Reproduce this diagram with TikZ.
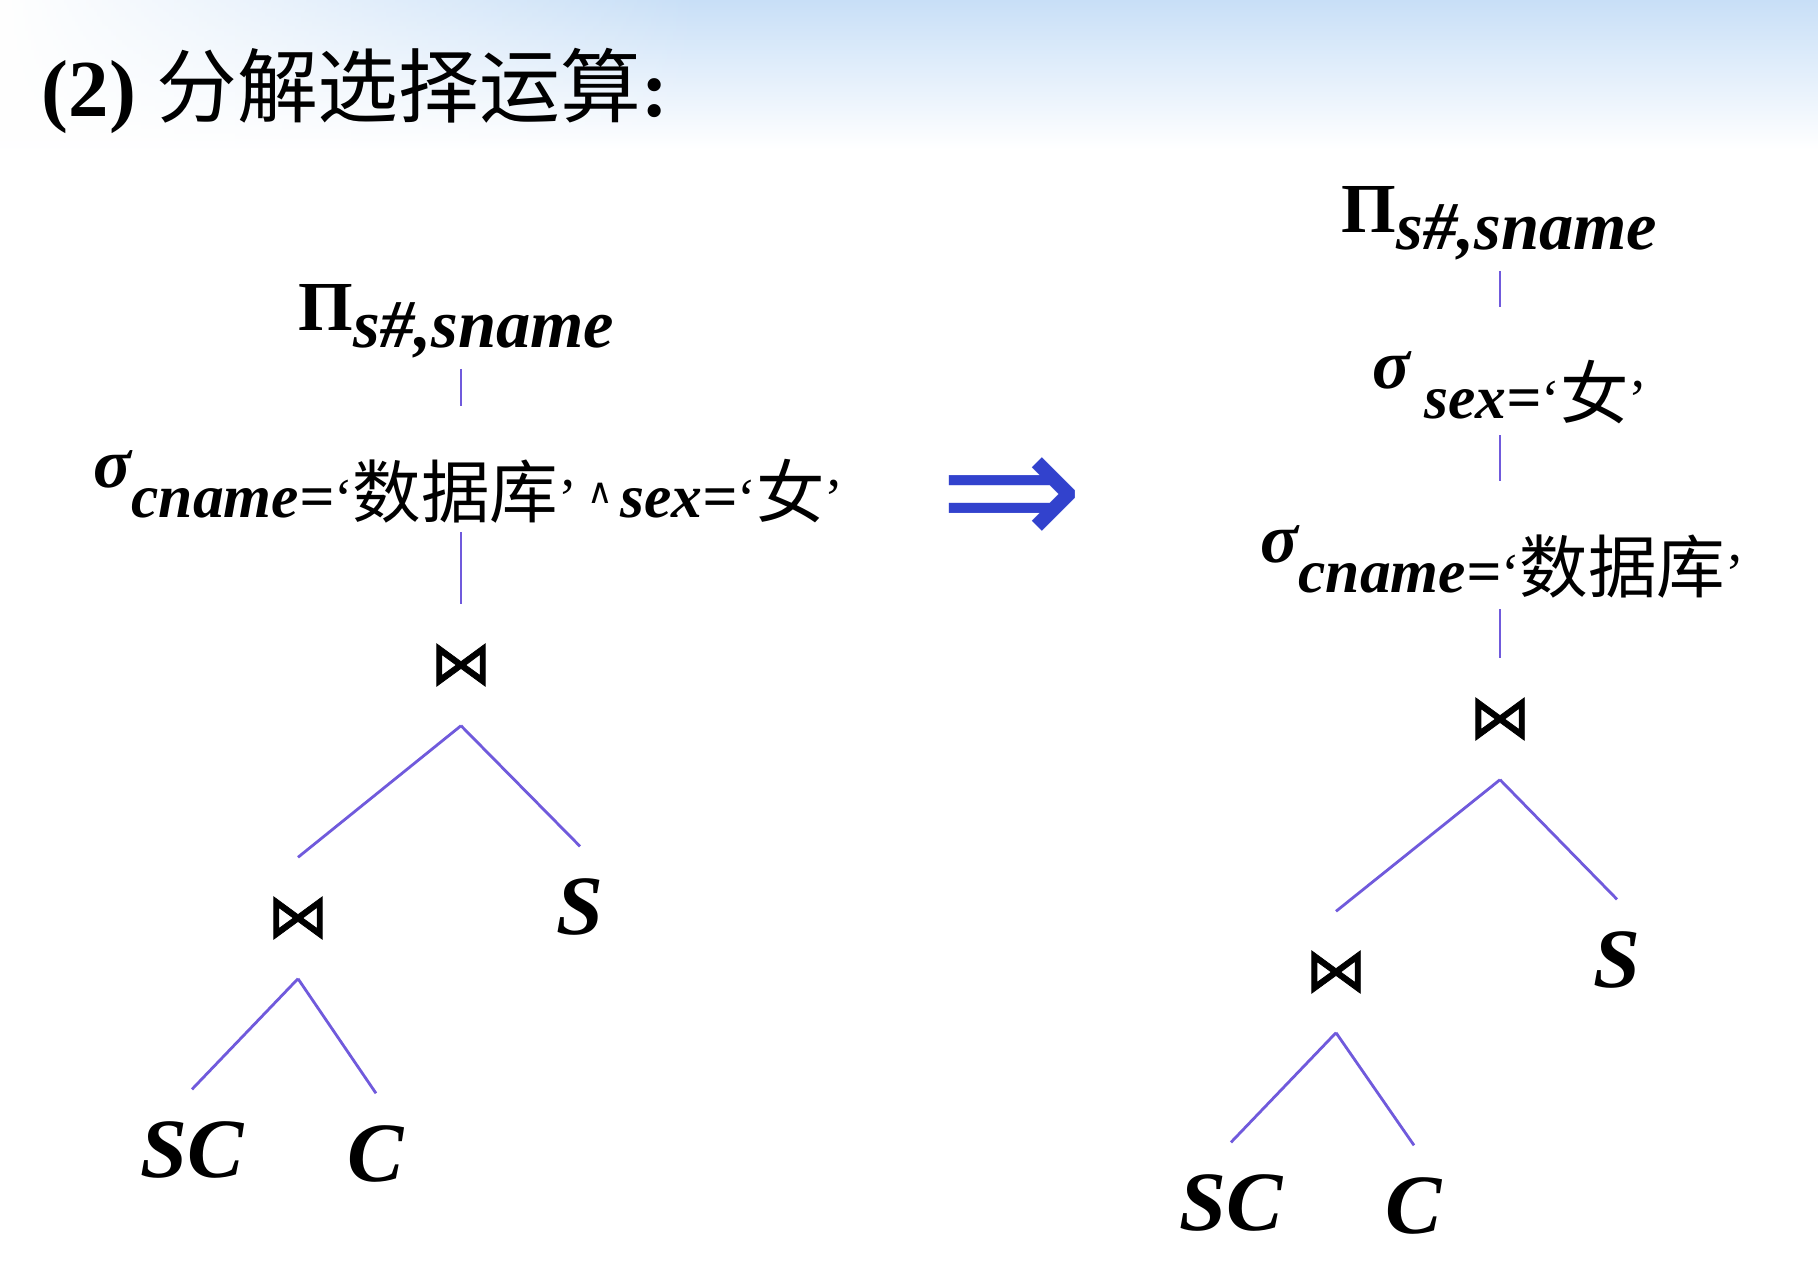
\documentclass[tikz,border=0pt]{standalone}
\usepackage{fontspec}
\setmainfont{Liberation Serif}
\newfontfamily\cjk{Noto Sans CJK SC}
\newfontfamily\djv{DejaVu Sans}
\newfontfamily\joinfont{DejaVu Sans}[FakeBold=1.2]
\usetikzlibrary{fadings}
\definecolor{edgeblue}{RGB}{112,90,220}
\definecolor{arrowblue}{RGB}{50,66,205}
\definecolor{skytop}{RGB}{200,223,247}
\newcommand{\lowtxt}[2][8.8pt]{\raisebox{-#1}{#2}}
\newcommand{\bfit}[2][17.5]{{\bfseries\itshape\fontsize{#1}{#1}\selectfont #2}}
\newcommand{\zhq}[1]{{\fontsize{16}{18}\selectfont ‘{\cjk\fontsize{19.5}{20}\selectfont #1}’}}
\newcommand{\andsym}{\hspace{3pt}\raisebox{4pt}{\djv\fontsize{10}{10}\selectfont ∧}\hspace{2pt}}
\tikzset{
  edge/.style={draw=edgeblue,line width=0.8pt},
  stem/.style={edge,shorten <=0.1cm,shorten >=0.43cm},
  treenode/.style={inner sep=0pt,minimum height=1.2cm},
  joinnode/.style={treenode,font=\joinfont\fontsize{17.5}{17.5}\selectfont},
  relnode/.style={treenode,font=\bfseries\itshape\fontsize{24}{24}\selectfont},
  opnode/.style={inner sep=0pt,anchor=base west,font=\fontsize{20}{22}\selectfont}
}
\begin{document}
\begin{tikzpicture}[x=1cm,y=-1cm]
\useasboundingbox (0,0) rectangle (18.18,12.72);
\shade[top color=skytop,bottom color=white] (0,0) rectangle (18.18,1.5);
\fill[white,path fading=east] (0,0) rectangle (7,1.5);
\node[anchor=base west,inner sep=0pt,font=\fontsize{23}{24}\selectfont] (title) at (0.41,1.16)
  {\textbf{(2)} {\cjk 分解选择运算}\textbf{:}};

% left tree
\node[opnode] (lproj) at (2.98,3.30) {\textbf{Π}\lowtxt[5pt]{\bfit[19.5]{s\#,sname}}};
\node[opnode] (lsel) at (0.93,4.87)
  {\bfit[20]{σ}\lowtxt{\bfit{cname=}\zhq{数据库}\andsym\bfit{sex=}\zhq{女}}};
\node[joinnode] (ljoin) at (4.61,6.65) {⋈};
\node[joinnode] (ljoin2) at (2.98,9.18) {⋈};
\node[relnode] (lS) at (5.80,9.07) {S};
\node[relnode] (lsc) at (1.92,11.50) {SC};
\node[relnode] (lc) at (3.76,11.54) {C};
\draw[stem] (ljoin |- lproj.south) -- (ljoin |- lsel.north);
\draw[edge,shorten <=0.08cm] (ljoin |- lsel.south) -- (ljoin.north);
\draw[edge] (ljoin.south) -- (ljoin2.north);
\draw[edge] (ljoin.south) -- (lS.north);
\draw[edge] (ljoin2.south) -- (lsc.north);
\draw[edge] (ljoin2.south) -- (lc.north);

\node[text=arrowblue,inner sep=0pt,font=\djv\fontsize{49}{49}\selectfont] (arrow) at (10.12,5.03) {⇒};

% right tree
\node[opnode] (rproj) at (13.41,2.32) {\textbf{Π}\lowtxt[5pt]{\bfit[19.5]{s\#,sname}}};
\node[opnode] (rsel1) at (13.72,3.88) {\bfit[20]{σ}\hspace{4pt}\lowtxt{\bfit{sex=}\zhq{女}}};
\node[opnode] (rsel2) at (12.60,5.62) {\bfit[20]{σ}\lowtxt{\bfit{cname=}\zhq{数据库}}};
\node[joinnode] (rjoin) at (15.00,7.19) {⋈};
\node[joinnode] (rjoin2) at (13.36,9.72) {⋈};
\node[relnode] (rS) at (16.17,9.60) {S};
\node[relnode] (rsc) at (12.31,12.03) {SC};
\node[relnode] (rc) at (14.14,12.06) {C};
\draw[stem] (rjoin |- rproj.south) -- (rjoin |- rsel1.north);
\draw[stem] (rjoin |- rsel1.south) -- (rjoin |- rsel2.north);
\draw[edge,shorten <=0.1cm] (rjoin |- rsel2.south) -- (rjoin.north);
\draw[edge] (rjoin.south) -- (rjoin2.north);
\draw[edge] (rjoin.south) -- (rS.north);
\draw[edge] (rjoin2.south) -- (rsc.north);
\draw[edge] (rjoin2.south) -- (rc.north);
\end{tikzpicture}
\end{document}
